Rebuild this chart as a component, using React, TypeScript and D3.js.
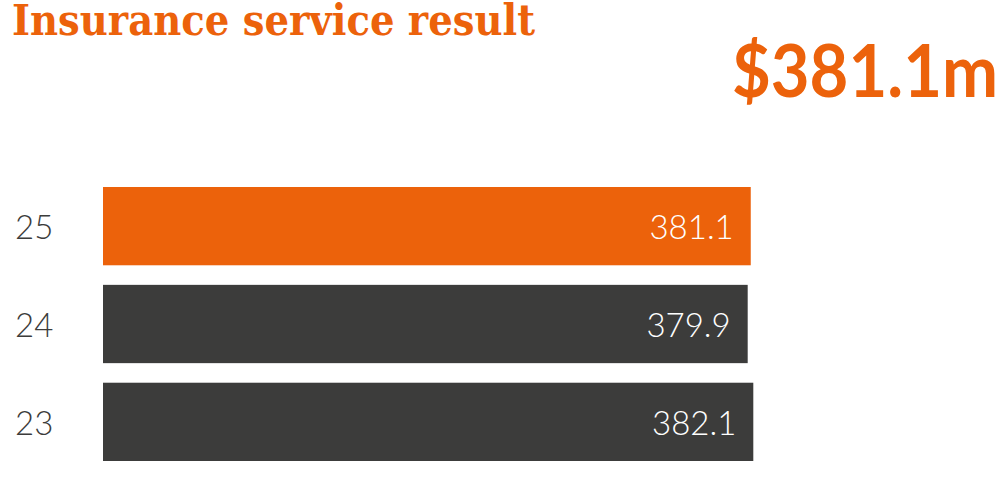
import React, { useEffect, useRef } from "react";
import * as d3 from "d3";

const WIDTH = 1004;
const HEIGHT = 489;

const ORANGE = "#ec620b";
const DARK = "#3c3c3b";

const years = ["25", "24", "23"];
const values = [381.1, 379.9, 382.1];
const valueLabels = ["381.1", "379.9", "382.1"];
const headline = "$381.1m";
const title = "Insurance service result";

export default function App() {
  const ref = useRef<SVGSVGElement>(null);

  useEffect(() => {
    const svg = d3.select(ref.current);
    svg.selectAll("*").remove();

    const rows = years.map((y, i) => ({ year: y, value: values[i], label: valueLabels[i] }));

    const y = d3.scaleBand<string>().domain(years).range([187, 461]).paddingInner(0.2);
    const x = d3.scaleLinear().domain([127, 382.1]).range([103, 753.3]);

    // title
    svg.append("text")
      .attr("x", 12)
      .attr("y", 35)
      .attr("fill", ORANGE)
      .attr("font-family", "'DejaVu Serif', 'Liberation Serif', serif")
      .attr("font-weight", 700)
      .attr("font-size", 43)
      .attr("textLength", 523)
      .attr("lengthAdjust", "spacingAndGlyphs")
      .text(title);

    // headline number
    svg.append("text")
      .attr("x", 998)
      .attr("y", 97)
      .attr("text-anchor", "end")
      .attr("fill", ORANGE)
      .attr("font-family", "Lato, 'Open Sans', sans-serif")
      .attr("font-weight", 700)
      .attr("font-size", 73)
      .attr("textLength", 266)
      .attr("lengthAdjust", "spacingAndGlyphs")
      .text(headline);

    const g = svg.append("g");

    g.selectAll("rect")
      .data(rows)
      .enter()
      .append("rect")
      .attr("x", x(127))
      .attr("y", d => y(d.year)!)
      .attr("width", d => x(d.value) - x(127))
      .attr("height", y.bandwidth())
      .attr("fill", (d, i) => (i === 0 ? ORANGE : DARK));

    g.selectAll(".val")
      .data(rows)
      .enter()
      .append("text")
      .attr("class", "val")
      .attr("x", d => x(d.value) - 17)
      .attr("y", d => y(d.year)! + y.bandwidth() / 2 + 13)
      .attr("text-anchor", "end")
      .attr("fill", "#fff")
      .attr("font-family", "Lato, 'Open Sans', sans-serif")
      .attr("font-weight", 300)
      .attr("font-size", 33)
      .text(d => d.label);

    g.selectAll(".yr")
      .data(rows)
      .enter()
      .append("text")
      .attr("class", "yr")
      .attr("x", 15)
      .attr("y", d => y(d.year)! + y.bandwidth() / 2 + 13)
      .attr("fill", DARK)
      .attr("font-family", "Lato, 'Open Sans', sans-serif")
      .attr("font-weight", 300)
      .attr("font-size", 33)
      .text(d => d.year);
  }, []);

  return (
    <svg
      ref={ref}
      width={WIDTH}
      height={HEIGHT}
      style={{ position: "absolute", left: 0, top: 0, background: "#fff" }}
    />
  );
}
